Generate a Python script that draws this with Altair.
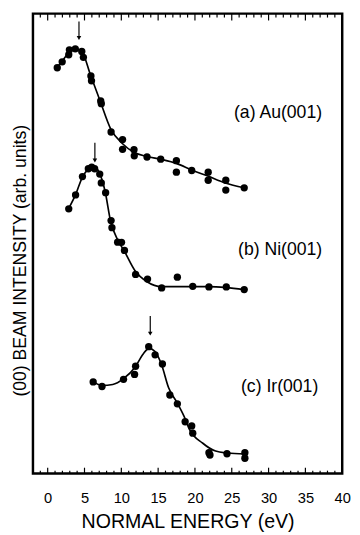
import altair as alt
import pandas as pd

# ---- data (energy in eV, intensity in arbitrary units) ----
au_energy = [1.30, 1.97, 2.86, 2.95, 3.75, 4.63, 4.85, 5.87, 5.95, 7.20, 7.28, 8.61,
             10.17, 10.17, 11.72, 11.76, 13.49, 15.35, 17.48, 17.48, 19.56, 21.80,
             21.80, 24.19, 24.19, 26.69]
au_intensity = [414.7, 420.7, 428, 433, 434, 431.3, 425.3, 406.3, 401.3, 380.7, 378, 349,
                341.3, 331.3, 331, 324.7, 323.5, 321.3, 319.7, 308, 309.7, 308,
                299.7, 299.7, 289.7, 292]
au_fit_energy = [1.26, 1.93, 2.86, 3.79, 4.72, 5.78, 7.11, 8.57, 10.17, 11.76, 13.49,
                 15.48, 17.48, 19.61, 21.74, 24.12, 26.65]
au_fit_intensity = [415, 421, 430, 434, 430, 408, 381, 352, 337, 328, 324,
                    321, 317, 310, 304, 297, 292]

ni_energy = [2.86, 3.79, 4.72, 5.52, 5.98, 6.38, 7.07, 7.28, 7.87, 8.61, 8.73, 9.50,
             10.03, 10.43, 11.94, 13.56, 15.48, 17.61, 19.70, 21.90, 24.26, 26.69]
ni_intensity = [270.5, 284.7, 303.5, 311.5, 313, 311.5, 306, 297, 287, 258.5, 251.3, 236.5,
                236.3, 228, 203.5, 198.7, 189.7, 200.7, 191.3, 190.7, 190.7, 188]
ni_fit_energy = [2.86, 3.79, 4.72, 5.52, 6.18, 6.98, 7.78, 8.57, 9.50, 10.43, 11.89,
                 13.49, 15.48, 17.48, 19.74, 21.87, 24.26, 26.65]
ni_fit_intensity = [271, 285, 303, 311, 314, 308, 289, 257, 239, 227, 207,
                    196, 191, 191, 191, 191, 190, 188]

ir_energy = [6.18, 7.38, 10.30, 11.80, 11.94, 13.72, 14.59, 15.58, 16.59, 17.61, 18.67,
             19.56, 19.70, 21.90, 22.04, 24.35, 26.78, 26.78]
ir_intensity = [93.7, 89, 96.3, 101.3, 109.7, 129.7, 121.3, 112, 80.3, 71.3, 53,
                48.7, 41.3, 21.3, 19, 20.3, 21.3, 15.7]
ir_fit_energy = [6.18, 7.38, 8.84, 10.30, 11.89, 12.95, 13.76, 14.55, 15.48, 16.41,
                 17.61, 18.67, 19.20, 21.07, 22.80, 24.39, 26.78]
ir_fit_intensity = [94, 90, 91, 97, 109, 122, 128, 125, 111, 88,
                    72, 56, 46, 31, 23, 21, 20]

arrow_energy = [4.25, 6.41, 13.93]
arrow_top = [462, 338, 161]
arrow_bottom = [445, 320, 143]

label_text = ["(a) Au(001)", "(b) Ni(001)", "(c) Ir(001)"]
label_energy = [25.3, 25.85, 26.25]
label_intensity = [368, 228, 88]

major_ticks = [0, 5, 10, 15, 20, 25, 30, 35, 40]
minor_ticks = [v for v in range(-1, 40) if v % 5 != 0]

FONT = "Liberation Sans"
X = alt.Scale(domain=[-2, 40], nice=False, zero=False)
Y = alt.Scale(domain=[0, 470], nice=False, zero=False)

xaxis = alt.Axis(values=major_ticks, ticks=False, domain=False, grid=False,
                 labelFontSize=15, labelFont=FONT, labelColor="black",
                 labelPadding=18, labelFlush=False, labelOverlap=False, labelBound=False,
                 title="NORMAL ENERGY (eV)", titleFont=FONT, titleFontSize=20,
                 titleFontWeight="normal", titleColor="black", titlePadding=6)
yaxis = alt.Axis(labels=False, ticks=False, domain=False, grid=False,
                 title="(00) BEAM INTENSITY (arb. units)", titleFont=FONT,
                 titleFontSize=18, titleFontWeight="normal", titleColor="black",
                 titleAngle=270, titleX=-12.5, titleY=252, titleAlign="center",
                 titleBaseline="middle")


def xe(field="E"):
    return alt.X(f"{field}:Q", scale=X, axis=xaxis)


def ye(field="I"):
    return alt.Y(f"{field}:Q", scale=Y, axis=yaxis)


layers = []
for E, I, FE, FI in [(au_energy, au_intensity, au_fit_energy, au_fit_intensity),
                     (ni_energy, ni_intensity, ni_fit_energy, ni_fit_intensity),
                     (ir_energy, ir_intensity, ir_fit_energy, ir_fit_intensity)]:
    fit = pd.DataFrame({"E": FE, "I": FI})
    pts = pd.DataFrame({"E": E, "I": I})
    layers.append(alt.Chart(fit).mark_line(color="black", strokeWidth=1.7,
                                           interpolate="monotone").encode(x=xe(), y=ye()))
    layers.append(alt.Chart(pts).mark_circle(size=56, color="black", opacity=1).encode(
        x=xe(), y=ye()))

arrows = pd.DataFrame({"E": arrow_energy, "top": arrow_top, "bottom": arrow_bottom})
layers.append(alt.Chart(arrows).mark_rule(color="black", strokeWidth=1.2).encode(
    x=xe(), y=ye("top"), y2="bottom:Q"))
layers.append(alt.Chart(arrows).mark_point(shape="triangle-down", size=22, filled=True,
                                           color="black", opacity=1).encode(
    x=xe(), y=ye("bottom")))

labels = pd.DataFrame({"E": label_energy, "I": label_intensity, "t": label_text})
layers.append(alt.Chart(labels).mark_text(align="left", baseline="middle", fontSize=18,
                                          font=FONT, color="black").encode(
    x=xe(), y=ye(), text="t:N"))

# frame ticks (inward), bottom and top
mj = pd.DataFrame({"E": major_ticks})
mn = pd.DataFrame({"E": minor_ticks})
for df, lb, lt in [(mj, 6, 7), (mn, 3, 4)]:
    layers.append(alt.Chart(df).mark_rule(color="black", strokeWidth=1.2).encode(
        x=xe(), y=alt.datum(0, scale=Y, axis=yaxis), y2=alt.datum(lb)))
    layers.append(alt.Chart(df).mark_rule(color="black", strokeWidth=1.2).encode(
        x=xe(), y=alt.datum(470, scale=Y, axis=yaxis), y2=alt.datum(470 - lt)))

chart = alt.layer(*layers).properties(
    width=316, height=470,
    autosize=alt.AutoSizeParams(type="none"),
    padding={"left": 25.5, "top": 0, "right": 10, "bottom": 56},
).configure_view(stroke="black", strokeWidth=2.5)

chart.save("out.html", embed_options={"renderer": "svg", "actions": False})
